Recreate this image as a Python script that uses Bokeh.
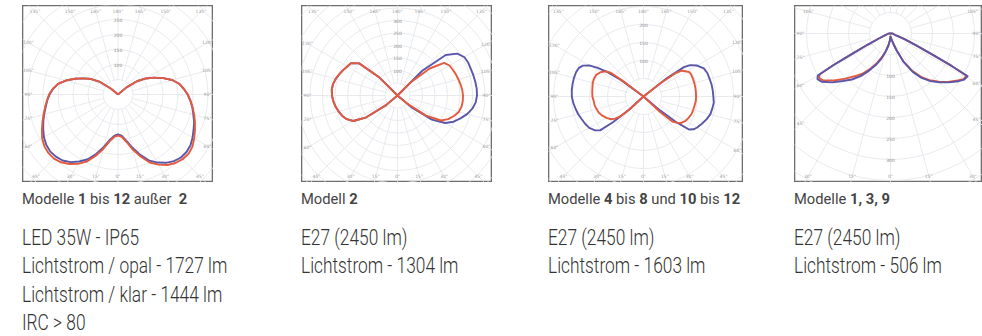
import math
from bokeh.plotting import figure
from bokeh.layouts import row, column
from bokeh.models import Div
from bokeh.core.properties import value
from bokeh.embed import file_html
from bokeh.resources import INLINE

# ---------------- data: intensity (cd/klm) vs angle from nadir (deg) ----------------
# Panel 1 - Modelle 1 bis 12 außer 2
P1_ANG = [0, 5, 10, 15, 20, 25, 30, 35, 40, 45, 50, 55, 60, 65, 70, 75, 80, 85, 90,
          95, 100, 105, 110, 115, 120, 125, 130, 135]
P1_RED_L = [137, 142, 158, 187, 217, 247, 267, 283, 295, 302, 303, 300, 292, 280, 268, 257, 247, 238, 230,
            218, 203, 180, 153, 127, 103, 73, 30, 0]
P1_RED_R = [137, 142, 160, 190, 220, 250, 270, 287, 298, 305, 307, 303, 293, 283, 273, 263, 253, 243, 233,
            220, 207, 187, 160, 133, 107, 77, 37, 0]
P1_BLUE_L = [133, 138, 153, 180, 210, 238, 258, 275, 287, 293, 295, 292, 285, 275, 265, 255, 245, 237, 228,
             217, 203, 180, 153, 127, 103, 73, 30, 0]
P1_BLUE_R = [133, 138, 155, 183, 213, 242, 262, 278, 290, 297, 298, 295, 287, 278, 270, 260, 252, 242, 232,
             220, 207, 187, 160, 133, 107, 77, 37, 0]

# Panel 2 - Modell 2
P2_ANG = [45, 50, 55, 60, 65, 70, 75, 80, 85, 90, 95, 100, 105, 110, 115, 120, 125, 130, 135, 140]
P2_RED_L = [0, 60, 152, 204, 224, 236, 244, 252, 258, 262, 264, 262, 256, 248, 240, 232, 226, 200, 100, 0]
P2_RED_R = [0, 48, 140, 200, 224, 240, 254, 260, 262, 262, 260, 256, 252, 248, 244, 240, 228, 168, 72, 0]
P2_BLUE_L = [0, 60, 152, 204, 224, 236, 244, 252, 258, 262, 264, 262, 256, 248, 240, 232, 226, 200, 100, 0]
P2_BLUE_R = [0, 72, 168, 220, 248, 268, 288, 304, 314, 318, 318, 316, 314, 312, 312, 308, 292, 252, 140, 0]

# Panel 3 - Modelle 4 bis 8 und 10 bis 12
P3_BLUE_L_ANG = [45, 48, 50, 52, 55, 60, 65, 70, 75, 80, 85, 90, 95, 100, 105, 110, 114, 117, 120, 122, 124, 126, 128]
P3_BLUE_L = [0, 56, 111, 153, 164, 174, 179, 183, 188, 192, 196, 199, 200, 200, 200, 199, 196, 189, 172, 150, 122, 78, 0]
P3_RED_L_ANG = [45, 47, 49, 52, 55, 60, 65, 70, 75, 80, 85, 90, 95, 100, 105, 110, 115, 120, 124, 126, 127.5, 129]
P3_RED_L = [0, 50, 83, 100, 110, 119, 126, 132, 135, 138, 139, 142, 143, 144, 146, 146, 144, 136, 125, 111, 61, 0]
P3_BLUE_R_ANG = [47, 50, 52, 54, 57, 60, 65, 70, 75, 80, 85, 90, 95, 100, 105, 110, 115, 120, 124, 126, 128, 130]
P3_BLUE_R = [0, 61, 117, 156, 167, 172, 179, 186, 192, 194, 196, 194, 193, 192, 190, 189, 185, 172, 156, 139, 83, 0]
P3_RED_R_ANG = [45, 47, 49, 52, 55, 60, 65, 70, 75, 80, 85, 90, 95, 100, 105, 110, 115, 118, 121, 124, 126, 128, 130]
P3_RED_R = [0, 61, 106, 119, 128, 135, 139, 142, 143, 144, 146, 146, 146, 146, 146, 146, 146, 144, 136, 128, 111, 61, 0]

# Panel 4 - Modelle 1, 3, 9
P4_L_ANG = [0, 5, 10, 15, 20, 25, 30, 35, 40, 45, 50, 55, 58, 60, 61, 62, 64, 67, 72, 80, 90]
P4_BLUE_L = [7, 17, 29, 45, 64, 83, 102, 124, 143, 160, 181, 200, 205, 200, 155, 107, 60, 29, 14, 7, 5]
P4_RED_L = [7, 17, 29, 43, 60, 79, 98, 117, 133, 152, 174, 195, 200, 195, 155, 107, 60, 29, 14, 7, 5]
P4_R_ANG = [0, 5, 10, 15, 20, 25, 30, 35, 40, 45, 50, 55, 58, 61, 62, 63, 65, 68, 72, 80, 90]
P4_BLUE_R = [7, 10, 14, 24, 43, 76, 105, 129, 148, 164, 181, 198, 207, 210, 167, 119, 71, 36, 14, 7, 5]
P4_RED_R = [7, 10, 14, 24, 43, 74, 102, 126, 145, 162, 179, 195, 205, 207, 167, 119, 71, 36, 14, 7, 5]

RING_STEP = 50
P1_RLABELS = ["100", "150", "200", "250"]
P2_RLABELS = ["100", "150", "200", "250", "300"]
P3_RLABELS = ["100", "150", "200"]
P4_RLABELS = ["100", "150", "200", "250", "300"]

CAPTIONS = [
    'Modelle <b>1</b> bis <b>12</b> außer&nbsp; <b>2</b>',
    'Modell <b>2</b>',
    'Modelle <b>4</b> bis <b>8</b> und <b>10</b> bis <b>12</b>',
    'Modelle <b>1, 3, 9</b>',
]
BODIES = [
    ["LED 35W - IP65", "Lichtstrom / opal - 1727 lm", "Lichtstrom / klar - 1444 lm", "IRC &gt; 80"],
    ["E27 (2450 lm)", "Lichtstrom - 1304 lm"],
    ["E27 (2450 lm)", "Lichtstrom - 1603 lm"],
    ["E27 (2450 lm)", "Lichtstrom - 506 lm"],
]

RED = "#e35a3f"
BLUE = "#5a56a8"
GRID = "#e2e5ea"
LBL = "#a0a0a0"


def curve_xy(ang_l, r_l, ang_r, r_r, close=False):
    xs, ys = [], []
    for a, r in sorted(zip(ang_l, r_l), key=lambda t: -t[0]):
        t = math.radians(a)
        xs.append(-r * math.sin(t)); ys.append(-r * math.cos(t))
    for a, r in sorted(zip(ang_r, r_r), key=lambda t: t[0]):
        t = math.radians(a)
        xs.append(r * math.sin(t)); ys.append(-r * math.cos(t))
    if close:
        xs.append(xs[0]); ys.append(ys[0])
    return xs, ys


def panel(W, H, cx, cy, scale, curves, rlabels, rlabel_dir, label_max=180):
    x0 = -cx / scale; x1 = (W - cx) / scale
    y1 = cy / scale; y0 = -(H - cy) / scale
    p = figure(width=W, height=H, x_range=(x0, x1), y_range=(y0, y1),
               output_backend="svg", toolbar_location=None, min_border=0,
               x_axis_location=None, y_axis_location=None)
    p.grid.visible = False
    p.outline_line_color = "#6e6e6e"
    p.outline_line_width = 1.6
    p.background_fill_color = "white"
    rmax = math.hypot(max(abs(x0), abs(x1)), max(abs(y0), abs(y1)))
    nr = int(rmax / RING_STEP) + 1
    radii = [RING_STEP * k for k in range(1, nr + 1)]
    p.circle(x=[0] * len(radii), y=[0] * len(radii), radius=radii,
             fill_color=None, line_color=GRID, line_width=0.8)
    sx0, sy0, sx1, sy1 = [], [], [], []
    for a in range(0, 360, 15):
        t = math.radians(a)
        dx, dy = math.sin(t), -math.cos(t)
        sx0.append(RING_STEP * dx); sy0.append(RING_STEP * dy)
        sx1.append(rmax * dx); sy1.append(rmax * dy)
    p.segment(sx0, sy0, sx1, sy1, line_color=GRID, line_width=0.8)
    # angle labels along the frame
    ins = 6 / scale
    xi0, xi1, yi0, yi1 = x0 + ins, x1 - ins, y0 + ins, y1 - ins
    lx, ly, lt = [], [], []
    for a in range(0, 360, 15):
        v = a if a <= 180 else 360 - a
        if v > label_max:
            continue
        t = math.radians(a)
        dx, dy = math.sin(t), -math.cos(t)
        cands = []
        if dx > 1e-9: cands.append(xi1 / dx)
        if dx < -1e-9: cands.append(xi0 / dx)
        if dy > 1e-9: cands.append(yi1 / dy)
        if dy < -1e-9: cands.append(yi0 / dy)
        tt = min(cands)
        px, py = tt * dx, tt * dy
        py = min(max(py, yi0), yi1)
        lx.append(px); ly.append(py)
        lt.append(f"{v}°")
    p.text(lx, ly, lt, text_align="center", text_baseline="middle",
           text_font_size="4.5px", text_color=LBL, text_font=value("DejaVu Sans"))
    # radial value labels along the vertical axis
    ry = [rlabel_dir * RING_STEP * (k + 2) for k in range(len(rlabels))]
    p.text([0] * len(rlabels), ry, rlabels, text_align="center", text_baseline="middle",
           text_font_size="4.5px", text_color="#8a8a8a", text_font=value("DejaVu Sans"))
    for (xs, ys, col) in curves:
        p.line(xs, ys, line_color=col, line_width=1.9, line_join="round")
    return p


def text_div(caption, body, width, height):
    lines = "<br>".join(body)
    html = (
        f'<div style="position:relative;width:{width}px;height:{height}px;font-family:Roboto;">'
        f'<div style="position:absolute;left:0;top:8px;font-size:15.5px;line-height:18px;'
        f'transform:scaleX(0.95);transform-origin:0 0;white-space:nowrap;color:#444;">{caption}</div>'
        f'<div style="position:absolute;left:0;top:41px;font-size:22.5px;line-height:28.3px;font-weight:300;'
        f'transform:scaleX(0.77);transform-origin:0 0;white-space:nowrap;color:#333;">{lines}</div>'
        f'</div>'
    )
    return Div(text=html, width=width, height=height, margin=0)


c1 = [curve_xy(P1_ANG, P1_BLUE_L, P1_ANG, P1_BLUE_R) + (BLUE,),
      curve_xy(P1_ANG, P1_RED_L, P1_ANG, P1_RED_R) + (RED,)]
c2 = [curve_xy(P2_ANG, P2_BLUE_L, P2_ANG, P2_BLUE_R) + (BLUE,),
      curve_xy(P2_ANG, P2_RED_L, P2_ANG, P2_RED_R) + (RED,)]
c3 = [curve_xy(P3_BLUE_L_ANG, P3_BLUE_L, P3_BLUE_R_ANG, P3_BLUE_R) + (BLUE,),
      curve_xy(P3_RED_L_ANG, P3_RED_L, P3_RED_R_ANG, P3_RED_R) + (RED,)]
c4 = [curve_xy(P4_L_ANG, P4_RED_L, P4_R_ANG, P4_RED_R, close=True) + (RED,),
      curve_xy(P4_L_ANG, P4_BLUE_L, P4_R_ANG, P4_BLUE_R, close=True) + (BLUE,)]

H = 177
DIV_H = 154
p1 = panel(191, H, 95.5, 89, 0.30, c1, P1_RLABELS, 1)
p2 = panel(191, H, 96, 90, 0.25, c2, P2_RLABELS, 1)
p3 = panel(195, H, 95, 91, 0.36, c3, P3_RLABELS, 1)
p4 = panel(188, H, 96, 28, 0.42, c4, P4_RLABELS, -1, label_max=105)

col_w = [279, 247, 246, 188]
cols = []
for p, cap, body, w in zip([p1, p2, p3, p4], CAPTIONS, BODIES, col_w):
    cols.append(column(p, text_div(cap, body, w, DIV_H), spacing=0, margin=0))

layout = row(*cols, spacing=0, margin=(5, 0, 0, 22))

open("out.html", "w").write(file_html(layout, INLINE))
